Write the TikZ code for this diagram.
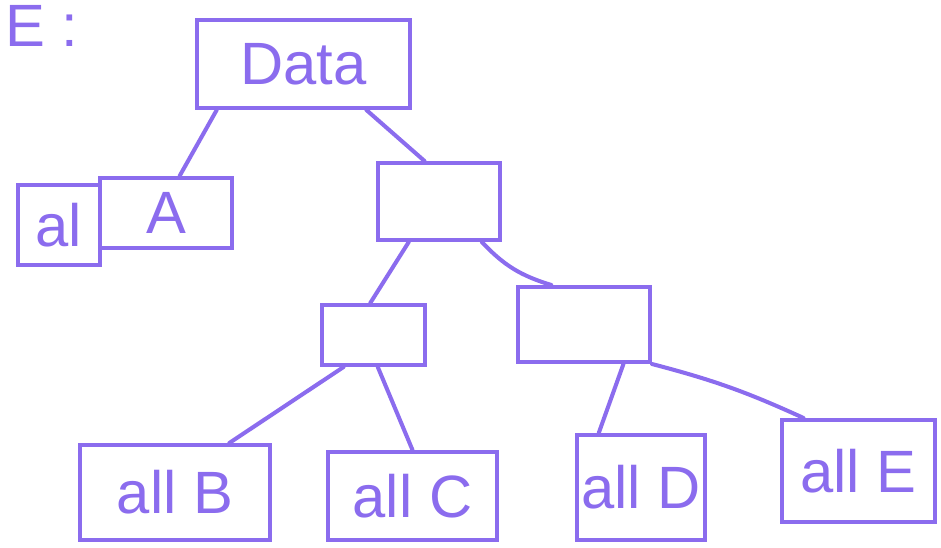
\documentclass[tikz,border=0pt]{standalone}
\usepackage{fontspec}
\setmainfont{Liberation Sans}
\usepackage{xcolor}
\definecolor{cPen}{HTML}{8B6CEE}
\usetikzlibrary{calc}
\tikzset{
  node-box/.style={draw=cPen,line width=2.3pt,inner sep=0pt,align=center,
    text=cPen,font=\fontsize{34}{34}\selectfont},
  node-text/.style={text=cPen,inner sep=0pt,font=\fontsize{34}{34}\selectfont},
  link/.style={draw=cPen,line width=2.3pt,line cap=round},
}

\begin{document}
\begin{tikzpicture}[x=0.02cm,y=-0.02cm]
  \useasboundingbox (0,0) rectangle (941,548);
  \node[node-text] (title) at (42,26) {E :};
  % top node and the split leaf
  \node[node-box,minimum width=4.26cm,minimum height=1.76cm] (data) at (303.5,64) {Data};
  \node[node-box,minimum width=1.64cm,minimum height=1.6cm] (al) at (59,225) {al};
  \node[node-box,minimum width=2.64cm,minimum height=1.4cm] (a) at (166,213) {A};
  % empty inner nodes
  \node[node-box,minimum width=2.44cm,minimum height=1.54cm] (n1) at (439,201.5) {};
  \node[node-box,minimum width=2.06cm,minimum height=1.2cm] (n2) at (373.5,335) {};
  \node[node-box,minimum width=2.64cm,minimum height=1.5cm] (n3) at (584,324.5) {};
  % leaves
  \node[node-box,minimum width=3.8cm,minimum height=1.9cm] (allb) at (175,492.5) {all B};
  \node[node-box,minimum width=3.38cm,minimum height=1.76cm] (allc) at (412.5,496) {all C};
  \node[node-box,minimum width=2.56cm,minimum height=2.1cm] (alld) at (641,487.5) {all D};
  \node[node-box,minimum width=3.06cm,minimum height=2.04cm] (alle) at (858.5,471) {all E};
  \draw[link] ($(data.south west)!0.1!(data.south east)$) -- ($(a.north west)!0.6!(a.north east)$);
  \draw[link] ($(data.south west)!0.79!(data.south east)$) -- ($(n1.north west)!0.385!(n1.north east)$);
  \draw[link] ($(n1.south west)!0.26!(n1.south east)$) -- ($(n2.north west)!0.47!(n2.north east)$);
  \draw[link] ($(n1.south west)!0.84!(n1.south east)$) to[bend right=15] ($(n3.north west)!0.26!(n3.north east)$);
  \draw[link] ($(n2.south west)!0.22!(n2.south east)$) -- ($(allb.north west)!0.78!(allb.north east)$);
  \draw[link] ($(n2.south west)!0.54!(n2.south east)$) -- ($(allc.north west)!0.5!(allc.north east)$);
  \draw[link] ($(n3.south west)!0.79!(n3.south east)$) -- ($(alld.north west)!0.18!(alld.north east)$);
  \draw[link] (n3.south east) to[bend left=5] ($(alle.north west)!0.15!(alle.north east)$);
\end{tikzpicture}
\end{document}
